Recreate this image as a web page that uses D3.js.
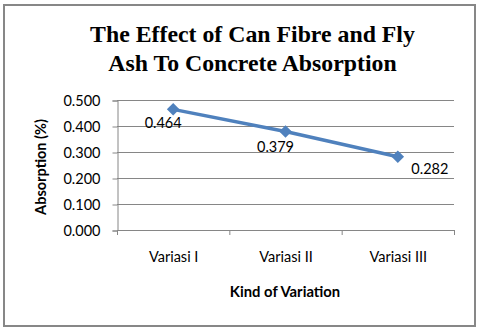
<!DOCTYPE html>
<html><head><meta charset="utf-8">
<script src="https://cdn.jsdelivr.net/npm/d3@7"></script>
<style>body{margin:0;background:#fff}svg{display:block}</style>
</head><body>
<script>
const categories = ["Variasi I", "Variasi II", "Variasi III"];
const values = [0.464, 0.379, 0.282];
const yTicks = [0, 0.1, 0.2, 0.3, 0.4, 0.5];
const titleLines = ["The Effect of Can Fibre and Fly", "Ash To Concrete Absorption"];
const labelOffsets = [[-10, 18.5], [-10, 20.5], [32, 17.5]];

const W = 480, H = 331;
const svg = d3.select("body").append("svg").attr("width", W).attr("height", H);
svg.append("rect").attr("x", 4).attr("y", 5).attr("width", 471).attr("height", 321)
  .attr("fill", "#fff").attr("stroke", "#878787").attr("stroke-width", 2);

const m = {l: 117, r: 454, t: 100, b: 230};
const x = d3.scaleBand().domain(categories).range([m.l, m.r]);
const y = d3.scaleLinear().domain([0, 0.5]).range([m.b, m.t]);

svg.append("text").attr("text-anchor", "middle")
  .attr("font-family", "Liberation Serif, Times New Roman, serif")
  .attr("font-weight", "bold").attr("font-size", 23.8).attr("fill", "#000")
  .selectAll("tspan").data(titleLines).join("tspan")
  .attr("x", 252.5).attr("y", (d, i) => 42 + i * 28.5).text(d => d);

// gridlines
svg.append("g").selectAll("line").data(yTicks.slice(1)).join("line")
  .attr("x1", m.l).attr("x2", m.r).attr("y1", d => y(d) + 0.5).attr("y2", d => y(d) + 0.5)
  .attr("stroke", "#868686").attr("stroke-width", 1);

const font = "Lato, Calibri, sans-serif";
const fs = 14.5;
const yAxis = svg.append("g").attr("transform", `translate(${m.l + 0.5},0.5)`)
  .call(d3.axisLeft(y).tickValues(yTicks).tickFormat(d3.format(".3f")).tickSize(5).tickPadding(12));
const xAxis = svg.append("g").attr("transform", `translate(0.5,${m.b + 0.5})`)
  .call(d3.axisBottom(x).tickSize(0).tickPadding(21.5));
[yAxis, xAxis].forEach(g => {
  g.selectAll("path,line").attr("stroke", "#868686");
  g.selectAll("text").attr("font-family", font).attr("font-size", fs).attr("fill", "#000");
});
yAxis.selectAll("text").attr("dy", "0.35em");
xAxis.select(".domain").attr("d", `M${m.l},0H${m.r}`);
// category boundary ticks
const bounds = categories.map(c => x(c)).concat([m.r]);
svg.append("g").selectAll("line").data(bounds).join("line")
  .attr("x1", d => d + 0.5).attr("x2", d => d + 0.5).attr("y1", m.b).attr("y2", m.b + 5)
  .attr("stroke", "#868686");

svg.append("text").attr("transform", `translate(46,${(m.t + m.b) / 2 + 2}) rotate(-90)`)
  .attr("text-anchor", "middle").attr("font-family", font).attr("font-weight", "bold")
  .attr("font-size", 14.5).text("Absorption (%)");
svg.append("text").attr("x", 285).attr("y", 296.5).attr("text-anchor", "middle")
  .attr("font-family", font).attr("font-weight", "bold").attr("font-size", 14.8).text("Kind of Variation");

const cx = d => x(d) + x.bandwidth() / 2;
const data = categories.map((c, i) => ({c, v: values[i], i}));
svg.append("path").datum(data)
  .attr("d", d3.line().x(d => cx(d.c)).y(d => y(d.v)))
  .attr("fill", "none").attr("stroke", "#4F81BD").attr("stroke-width", 3.5);
svg.append("g").selectAll("path").data(data).join("path")
  .attr("d", d3.symbol(d3.symbolDiamond2, 100))
  .attr("transform", d => `translate(${cx(d.c)},${y(d.v)})`)
  .attr("fill", "#4F81BD");
svg.append("g").selectAll("text").data(data).join("text")
  .attr("x", d => cx(d.c) + labelOffsets[d.i][0]).attr("y", d => y(d.v) + labelOffsets[d.i][1])
  .attr("text-anchor", "middle").attr("font-family", font).attr("font-size", fs).attr("fill", "#000")
  .text(d => d3.format(".3f")(d.v));
</script>
</body></html>
